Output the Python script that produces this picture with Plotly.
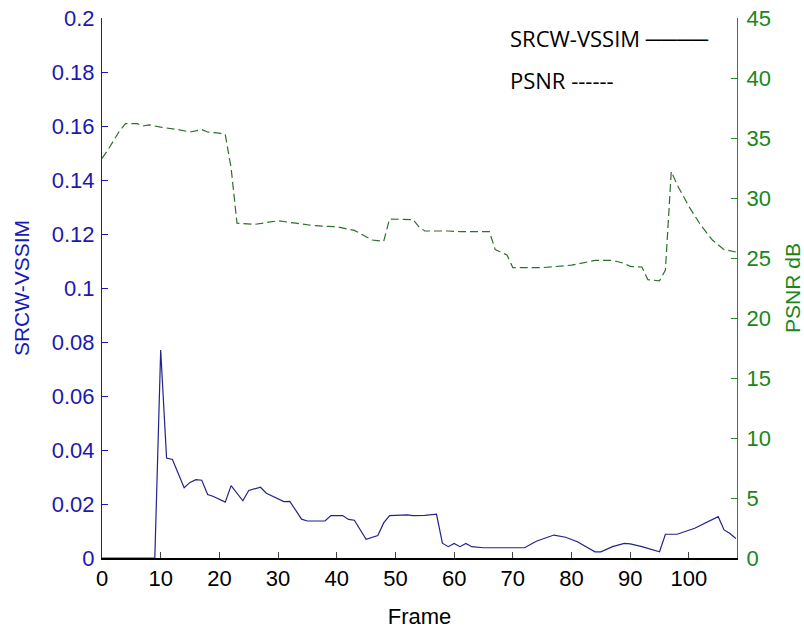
import plotly.graph_objects as go

# SRCW-VSSIM per frame (left axis)
vssim_frames = [0, 9, 10, 11, 12, 14, 15, 16, 17, 18, 19, 21, 22, 24, 25, 27, 28, 31, 32,
                34, 35, 38, 39, 41, 42, 43, 45, 47, 48, 49, 52, 53, 55, 57, 58, 59, 60,
                61, 62, 63, 65, 72, 74, 77, 79, 81, 84, 85, 87, 89, 90, 92, 95, 96, 98,
                101, 105, 106, 107, 108]
vssim_values = [0.0, 0.0, 0.077, 0.037, 0.0365, 0.026, 0.028, 0.029, 0.0288, 0.0235, 0.0228,
                0.0207, 0.0268, 0.0212, 0.025, 0.0262, 0.024, 0.0209, 0.021,
                0.0144, 0.0137, 0.0137, 0.0157, 0.0157, 0.0143, 0.014, 0.0069, 0.0083, 0.013,
                0.0157, 0.016, 0.0157, 0.0158, 0.0162, 0.0055, 0.0042, 0.0054,
                0.0042, 0.0054, 0.0042, 0.0038, 0.0038, 0.0062, 0.0085, 0.0077, 0.006, 0.0023,
                0.0023, 0.0042, 0.0054, 0.0052, 0.0042, 0.0023, 0.0088, 0.0088,
                0.011, 0.0153, 0.0104, 0.0091, 0.0072]

# PSNR per frame in dB (right axis)
psnr_frames = [0, 1, 3, 4, 6, 7, 8, 10, 13, 15, 17, 18, 20, 21, 22, 23, 26, 30, 33, 36, 40,
               42, 43, 46, 48, 49, 53, 54, 55, 59, 61, 66, 67, 69, 70, 75, 80, 84, 87, 89,
               90, 92, 93, 95, 96, 97, 98, 100, 102, 104, 106, 108]
psnr_values = [33.3, 34.0, 35.6, 36.2, 36.2, 36.0, 36.1, 35.9, 35.7, 35.5, 35.7, 35.5, 35.4,
               35.3, 32.5, 27.9, 27.8, 28.1, 27.9, 27.7, 27.6,
               27.4, 27.3, 26.5, 26.4, 28.25, 28.2, 27.6, 27.25, 27.25, 27.2, 27.2, 25.7,
               25.25, 24.2, 24.2, 24.4, 24.8, 24.8, 24.55,
               24.3, 24.25, 23.2, 23.1, 24.0, 32.2, 31.1, 29.3, 27.75, 26.5, 25.7, 25.5]

x_ticks = list(range(0, 101, 10))

BLUE_TXT = "#1a1ab0"
GREEN_TXT = "#1a861a"
FONT = "Liberation Sans, Arial, sans-serif"
LEG_FONT = "Open Sans, sans-serif"

# plot area in pixels
L, R, T, B = 102, 67, 18, 74
W, H = 804, 632

fig = go.Figure()
fig.add_trace(go.Scatter(x=vssim_frames, y=vssim_values, mode="lines",
                         line=dict(color="#23238a", width=1.2), yaxis="y"))
fig.add_trace(go.Scatter(x=psnr_frames, y=psnr_values, mode="lines",
                         line=dict(color="#2d6e2d", width=1.2, dash="8px,4px"), yaxis="y2"))

fig.update_layout(
    width=W, height=H,
    margin=dict(l=L, r=R, t=T, b=B, autoexpand=False),
    paper_bgcolor="white", plot_bgcolor="white",
    showlegend=False,
    font=dict(family=FONT, size=22, color="black"),
    xaxis=dict(range=[0, 108.2], tickvals=x_ticks, ticks="inside", ticklen=6,
               showline=True, linecolor="black", linewidth=1.6, showgrid=False,
               zeroline=False, layer="above traces", automargin=False,
               tickfont=dict(size=22, color="black"),
               title=dict(text="Frame", font=dict(size=22, color="black"), standoff=18)),
    yaxis=dict(range=[0, 0.2], dtick=0.02, ticks="inside", ticklen=6,
               showline=True, linecolor="#1a1ab0", linewidth=1.2, tickcolor="#1a1ab0",
               showgrid=False, zeroline=False, layer="above traces", automargin=False,
               tickfont=dict(size=22, color=BLUE_TXT), ticklabelstandoff=2,
               title=dict(text="SRCW-VSSIM", font=dict(size=21, color=BLUE_TXT), standoff=16)),
    yaxis2=dict(range=[0, 45], dtick=5, ticks="inside", ticklen=6, overlaying="y",
                side="right", anchor="x",
                showline=True, linecolor="#2a8a2a", linewidth=1.2, tickcolor="#2a8a2a",
                showgrid=False, zeroline=False, layer="above traces", automargin=False,
                tickfont=dict(size=22, color=GREEN_TXT), ticklabelstandoff=4,
                title=dict(text="PSNR dB", font=dict(size=21, color=GREEN_TXT), standoff=22)),
)

# legend-style labels, positioned in pixels then converted to paper fractions
legend_rows = [("SRCW-VSSIM \u2500\u2500\u2500\u2500", 508, 38),
               ("PSNR ------", 508, 80)]
plot_w = W - L - R
plot_h = H - T - B
for text, px, py in legend_rows:
    fig.add_annotation(text=text, x=(px - L) / plot_w, y=(H - py - B) / plot_h,
                       xref="paper", yref="paper", showarrow=False,
                       xanchor="left", yanchor="middle",
                       font=dict(family=LEG_FONT, size=22, color="black"))

fig.write_html("out.html")
